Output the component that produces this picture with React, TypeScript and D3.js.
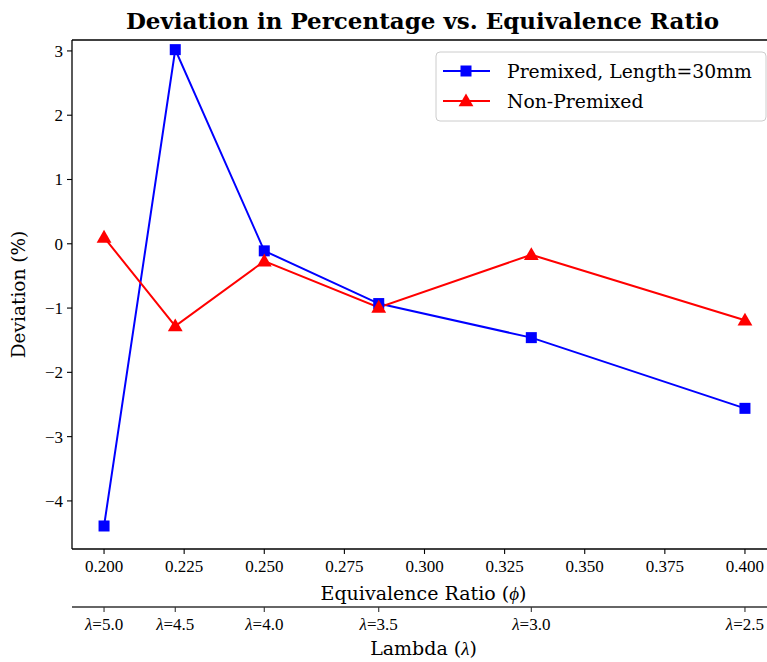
import React from "react";
import * as d3 from "d3";

// Equivalence ratio phi = 1 / lambda
const lambdas = [5.0, 4.5, 4.0, 3.5, 3.0, 2.5];
const phis = lambdas.map((l) => 1 / l);
const premixed = [-4.39, 3.02, -0.11, -0.93, -1.46, -2.56];
const nonPremixed = [0.1, -1.28, -0.27, -0.99, -0.17, -1.19];
const xTicks = [0.2, 0.225, 0.25, 0.275, 0.3, 0.325, 0.35, 0.375, 0.4];
const yTicks = [-4, -3, -2, -1, 0, 1, 2, 3];

const W = 767;
const H = 662;
const left = 72;
const top = 40;
const bottom = 549;
const right = 777;
const secY = 607;

const serif = "'DejaVu Serif', serif";
const mathSerif = "'Liberation Serif', serif";

export default function App() {
  const x = d3.scaleLinear().domain([0.19, 0.41]).range([left, right]);
  const y = d3.scaleLinear().domain([-4.748, 3.17]).range([bottom, top]);
  const line = d3
    .line<number>()
    .x((_, i) => x(phis[i]))
    .y((d) => y(d));
  const tri = d3.symbol(d3.symbolTriangle, 95)();
  const fmtMinus = (v: number) => (v < 0 ? "\u2212" + Math.abs(v) : String(v));

  return (
    <svg width={W} height={H} style={{ position: "absolute", left: 0, top: 0 }}>
      <rect width={W} height={H} fill="white" />
      {/* title */}
      <text
        x={(left + right) / 2 - 2}
        y={29}
        textAnchor="middle"
        fontFamily={serif}
        fontWeight="bold"
        fontSize={23}
      >
        Deviation in Percentage vs. Equivalence Ratio
      </text>

      {/* series */}
      <path d={line(premixed) ?? ""} fill="none" stroke="#0000ff" strokeWidth={2} />
      <path d={line(nonPremixed) ?? ""} fill="none" stroke="#ff0000" strokeWidth={2} />
      {premixed.map((v, i) => (
        <rect
          key={"b" + i}
          x={x(phis[i]) - 5.5}
          y={y(v) - 5.5}
          width={11}
          height={11}
          fill="#0000ff"
        />
      ))}
      {nonPremixed.map((v, i) => (
        <path
          key={"r" + i}
          d={tri}
          transform={`translate(${x(phis[i])},${y(v) + 1})`}
          fill="#ff0000"
        />
      ))}

      {/* spines */}
      <line x1={left} x2={W} y1={top} y2={top} stroke="black" strokeWidth={1.3} />
      <line x1={left} x2={W} y1={bottom} y2={bottom} stroke="black" strokeWidth={1.3} />
      <line x1={left} x2={left} y1={top} y2={bottom} stroke="black" strokeWidth={1.3} />

      {/* y axis */}
      {yTicks.map((t) => (
        <g key={"y" + t}>
          <line x1={left - 5} x2={left} y1={y(t)} y2={y(t)} stroke="black" strokeWidth={1.1} />
          <text
            x={left - 9}
            y={y(t) + 6}
            textAnchor="end"
            fontFamily={mathSerif}
            fontSize={17}
          >
            {fmtMinus(t)}
          </text>
        </g>
      ))}
      <text
        transform={`translate(25,${(top + bottom) / 2}) rotate(-90)`}
        textAnchor="middle"
        fontFamily={serif}
        fontSize={18.5}
      >
        Deviation (%)
      </text>

      {/* x axis */}
      {xTicks.map((t) => (
        <g key={"x" + t}>
          <line x1={x(t)} x2={x(t)} y1={bottom} y2={bottom + 5} stroke="black" strokeWidth={1.1} />
          <text
            x={x(t)}
            y={bottom + 23}
            textAnchor="middle"
            fontFamily={mathSerif}
            fontSize={17}
          >
            {t.toFixed(3)}
          </text>
        </g>
      ))}
      <text
        x={(left + right) / 2 - 1}
        y={bottom + 51}
        textAnchor="middle"
        fontFamily={serif}
        fontSize={19}
      >
        Equivalence Ratio (<tspan fontStyle="italic" fontFamily={mathSerif}>ϕ</tspan>)
      </text>

      {/* secondary lambda axis */}
      <line x1={left} x2={W} y1={secY} y2={secY} stroke="#333" strokeWidth={1.3} />
      {lambdas.map((l) => (
        <g key={"l" + l}>
          <line x1={x(1 / l)} x2={x(1 / l)} y1={secY} y2={secY + 5} stroke="#333" strokeWidth={1.1} />
          <text
            x={x(1 / l)}
            y={secY + 23}
            textAnchor="middle"
            fontFamily={mathSerif}
            fontSize={17}
          >
            <tspan fontStyle="italic">λ</tspan>={l.toFixed(1)}
          </text>
        </g>
      ))}
      <text
        x={(left + right) / 2 - 1}
        y={secY + 48}
        textAnchor="middle"
        fontFamily={serif}
        fontSize={19}
      >
        Lambda (<tspan fontStyle="italic" fontFamily={mathSerif}>λ</tspan>)
      </text>

      {/* legend */}
      <rect
        x={436}
        y={52}
        width={330}
        height={69}
        rx={4}
        fill="white"
        fillOpacity={0.8}
        stroke="#cccccc"
        strokeWidth={1}
      />
      <line x1={443} x2={490} y1={71} y2={71} stroke="#0000ff" strokeWidth={2} />
      <rect x={466 - 5.5} y={71 - 5.5} width={11} height={11} fill="#0000ff" />
      <text x={507} y={77.5} fontFamily={serif} fontSize={18.8}>
        Premixed, Length=30mm
      </text>
      <line x1={443} x2={490} y1={101} y2={101} stroke="#ff0000" strokeWidth={2} />
      <path d={tri} transform={`translate(466,102)`} fill="#ff0000" />
      <text x={507} y={107.5} fontFamily={serif} fontSize={18.8}>
        Non-Premixed
      </text>
    </svg>
  );
}
